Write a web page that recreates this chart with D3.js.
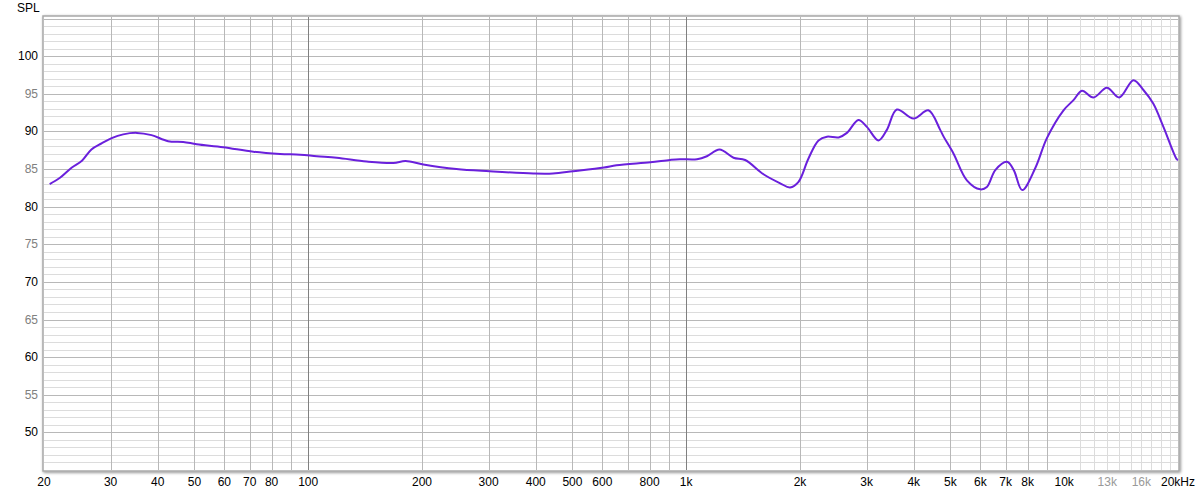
<!DOCTYPE html>
<html>
<head>
<meta charset="utf-8">
<script src="https://cdn.jsdelivr.net/npm/d3@7"></script>
<style>
  body { margin: 0; background: #fff; }
  text { font-family: "Liberation Sans", Arial, sans-serif; font-size: 12px; }
</style>
</head>
<body>
<div id="chart-area"></div>
<script>
// frequency response (Hz, dB SPL)
const freqs = [20.7, 22.0, 23.7, 25.2, 26.7, 28.4, 30.2, 32.4, 35.2, 38.5, 42.6, 46.7, 50.7, 59.6, 71.6, 84.2,
  95.2, 105.4, 119, 142.8, 168, 181, 201.6, 246.6, 302, 394, 444, 502, 606, 654, 804, 906, 962,
  1068, 1134, 1225, 1334, 1432, 1601, 1773, 1883, 1982, 2106, 2239, 2357, 2531, 2662, 2855, 3005,
  3227, 3395, 3608, 3993, 4372, 4698, 4797, 5089, 5527, 5995, 6243, 6571, 7056, 7354, 7741, 8380,
  8999, 9958, 10580, 11140, 11950, 12970, 13980, 15250, 16200, 17200, 18300, 19850, 20000];
const spl = [83.0, 83.8, 85.2, 86.1, 87.6, 88.4, 89.1, 89.6, 89.8, 89.5, 88.7, 88.6, 88.3, 87.9, 87.3, 87.0,
  86.9, 86.7, 86.5, 86.0, 85.8, 86.05, 85.6, 85.0, 84.7, 84.4, 84.4, 84.7, 85.2, 85.5, 85.9, 86.2, 86.3,
  86.3, 86.7, 87.6, 86.5, 86.2, 84.3, 83.1, 82.55, 83.3, 86.4, 88.8, 89.3, 89.2, 89.8, 91.5, 90.6,
  88.8, 90.2, 92.9, 91.7, 92.8, 90.2, 89.3, 87.1, 83.5, 82.3, 82.6, 84.85, 85.95, 84.85, 82.2, 85.1,
  89.1, 92.8, 94.15, 95.4, 94.5, 95.8, 94.5, 96.8, 95.5, 93.7, 90.6, 86.3, 86.2];

const yTicks = [50, 55, 60, 65, 70, 75, 80, 85, 90, 95, 100];
const xTickLabels = [
  [20, "20"], [30, "30"], [40, "40"], [50, "50"], [60, "60"], [70, "70"], [80, "80"], [100, "100"],
  [200, "200"], [300, "300"], [400, "400"], [500, "500"], [600, "600"], [800, "800"], [1000, "1k"],
  [2000, "2k"], [3000, "3k"], [4000, "4k"], [5000, "5k"], [6000, "6k"], [7000, "7k"], [8000, "8k"],
  [10000, "10k"], [13000, "13k"], [16000, "16k"], [20000, "20kHz"]
];
const greyLabels = ["13k", "16k"];

const width = 1200, height = 495;
const plotLeft = 44, plotRight = 1178, plotTop = 17, plotBottom = 470;

const x = d3.scaleLog().domain([20, 20000]).range([plotLeft, plotRight]);
const y = d3.scaleLinear().domain([45, 105.2]).range([plotBottom, plotTop]);

const svg = d3.select("#chart-area").append("svg")
  .attr("width", width).attr("height", height);

// frame with soft shadow
const defs = svg.append("defs");
const f = defs.append("filter").attr("id", "shadow")
  .attr("x", "-2%").attr("y", "-2%").attr("width", "104%").attr("height", "104%");
f.append("feGaussianBlur").attr("in", "SourceAlpha").attr("stdDeviation", 1.5);
f.append("feOffset").attr("dx", 1).attr("dy", 1).attr("result", "b");
f.append("feComponentTransfer").append("feFuncA").attr("type", "linear").attr("slope", 0.45);
const m = f.append("feMerge");
m.append("feMergeNode");
m.append("feMergeNode").attr("in", "SourceGraphic");

svg.append("rect")
  .attr("x", plotLeft - 1).attr("y", plotTop - 1)
  .attr("width", plotRight - plotLeft + 2).attr("height", plotBottom - plotTop + 2)
  .attr("fill", "#fff").attr("stroke", "#a8a8a8").attr("stroke-width", 1.5)
  .attr("filter", "url(#shadow)");

const grid = svg.append("g").attr("shape-rendering", "crispEdges");

// horizontal grid, every 1 dB
d3.range(46, 106).forEach(v => {
  grid.append("line")
    .attr("x1", plotLeft).attr("x2", plotRight)
    .attr("y1", Math.round(y(v)) + 0.5).attr("y2", Math.round(y(v)) + 0.5)
    .attr("stroke", v % 5 === 0 ? "#b8b8b8" : "#dcdcdc");
});

// vertical grid
const vLines = [];
[10, 100, 1000].forEach(dec => {
  for (let k = 1; k <= 9; k++) {
    const fq = dec * k;
    if (fq > 20 && fq < 20000) vLines.push(fq);
  }
});
for (let k = 11; k <= 19; k++) vLines.push(k * 1000);
vLines.sort((a, b) => a - b);
vLines.forEach(fq => {
  const major = fq === 100 || fq === 1000 || fq === 10000;
  grid.append("line")
    .attr("x1", Math.round(x(fq)) + 0.5).attr("x2", Math.round(x(fq)) + 0.5)
    .attr("y1", plotTop).attr("y2", plotBottom)
    .attr("stroke", major ? "#808080" : (fq > 10000 ? "#dcdcdc" : "#b8b8b8"));
});

// y labels
svg.append("g").selectAll("text")
  .data(yTicks)
  .join("text")
  .attr("x", 38).attr("y", d => y(d) + 4)
  .attr("text-anchor", "end")
  .attr("fill", d => d % 10 === 0 ? "#000" : "#808080")
  .text(d => d);

svg.append("text").attr("x", 17).attr("y", 12).attr("fill", "#000").text("SPL");

// x labels (the last one hangs off to the right of its line, like the original)
svg.append("g").selectAll("text")
  .data(xTickLabels)
  .join("text")
  .attr("x", d => d[1] === "20kHz" ? x(d[0]) - 17 : x(d[0]))
  .attr("y", 486)
  .attr("text-anchor", d => d[1] === "20kHz" ? "start" : "middle")
  .attr("fill", d => greyLabels.includes(d[1]) ? "#999" : "#000")
  .text(d => d[1]);

// curve
const line = d3.line()
  .x(d => x(d[0]))
  .y(d => y(d[1]))
  .curve(d3.curveCatmullRom.alpha(0.5));

svg.append("path")
  .datum(freqs.map((fq, i) => [fq, spl[i]]))
  .attr("fill", "none")
  .attr("stroke", "#6a20dc")
  .attr("stroke-width", 2)
  .attr("stroke-linejoin", "round")
  .attr("d", line);
</script>
</body>
</html>
